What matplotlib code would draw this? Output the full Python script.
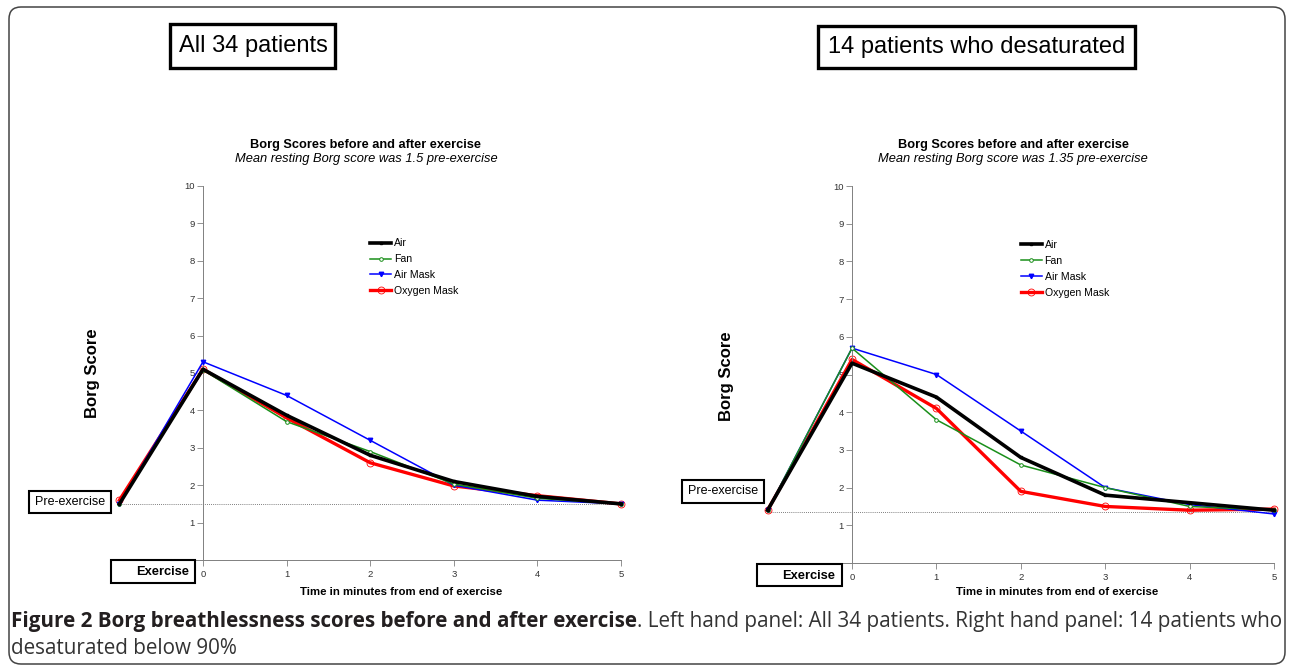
import matplotlib
matplotlib.use("Agg")
import matplotlib.pyplot as plt
from matplotlib.patches import Rectangle, FancyBboxPatch
from matplotlib.transforms import Affine2D
from matplotlib import font_manager

W, H, DPI = 1292, 668, 100

plt.rcParams['font.family'] = ['Liberation Sans', 'DejaVu Sans']

# x = -1 is the resting (pre-exercise) reading, 0..5 minutes after exercise
times = [-1, 0, 1, 2, 3, 4, 5]
xticks = [0, 1, 2, 3, 4, 5]
yticks = [1, 2, 3, 4, 5, 6, 7, 8, 9, 10]
series = ['Air', 'Fan', 'Air Mask', 'Oxygen Mask']

# left panel - all 34 patients
all_air = [1.5, 5.1, 3.87, 2.8, 2.1, 1.7, 1.5]
all_fan = [1.5, 5.08, 3.7, 2.9, 2.03, 1.65, 1.5]
all_airmask = [1.5, 5.3, 4.4, 3.2, 2.0, 1.6, 1.5]
all_oxygen = [1.6, 5.1, 3.8, 2.6, 1.98, 1.72, 1.5]
all_rest = 1.5

# right panel - 14 patients who desaturated
des_air = [1.4, 5.3, 4.4, 2.8, 1.8, 1.6, 1.4]
des_fan = [1.4, 5.7, 3.8, 2.6, 2.0, 1.5, 1.4]
des_airmask = [1.4, 5.7, 5.0, 3.5, 2.0, 1.55, 1.3]
des_oxygen = [1.4, 5.4, 4.1, 1.9, 1.5, 1.4, 1.43]
des_rest = 1.35

styles = {
    'Air': dict(color='black', lw=2.6, marker='s', ms=1.6, mfc='black', mec='black', zorder=5),
    'Fan': dict(color='#1a8f1a', lw=1.1, marker='o', ms=2.6, mfc='white', mec='#1a8f1a', mew=0.7, zorder=4),
    'Air Mask': dict(color='#0000ff', lw=1.1, marker='v', ms=3.2, mfc='#0000ff', mec='#0000ff', zorder=3),
    'Oxygen Mask': dict(color='#ff0000', lw=2.4, marker='o', ms=5, mfc='none', mec='#ff0000', mew=0.6, zorder=2),
}

fig = plt.figure(figsize=(W / DPI, H / DPI), dpi=DPI)
# pixel coordinates measured from the top-left corner
px = Affine2D().scale(1 / DPI, -1 / DPI).translate(0, H / DPI) + fig.dpi_scale_trans


def box(x0, y0, x1, y1, lw):
    fig.add_artist(Rectangle((x0, y0), x1 - x0, y1 - y0, transform=px, facecolor='white',
                             edgecolor='black', lw=lw, zorder=6))


def label(x, y, s, **kw):
    kw.setdefault('ha', 'center')
    kw.setdefault('va', 'center')
    return fig.text(x, y, s, transform=px, zorder=7, **kw)


def draw_panel(rect, scores, rest, legend_top):
    x0, x1, y_top, y_bot = rect
    ax = fig.add_axes([x0 / W, (H - y_bot) / H, (x1 - x0) / W, (y_bot - y_top) / H])
    ax.set_facecolor('none')
    for name, vals in zip(series, scores):
        ax.plot(times, vals, label=name, clip_on=False, **styles[name])
    ax.plot([times[0], times[-1]], [rest, rest], ls=(0, (1, 1.5)), color='#555555', lw=0.6, zorder=1)
    ax.set_xlim(-1.2, 5.1)
    ax.set_ylim(0, 10)
    ax.spines['top'].set_visible(False)
    ax.spines['right'].set_visible(False)
    ax.spines['left'].set_position(('data', 0))
    ax.spines['left'].set_bounds(0, 10)
    ax.spines['bottom'].set_bounds(-1, 5)
    for sp in ('left', 'bottom'):
        ax.spines[sp].set_color('#808080')
        ax.spines[sp].set_linewidth(0.7)
    ax.set_xticks(xticks)
    ax.set_yticks(yticks)
    ax.tick_params(axis='both', length=4, width=0.6, color='#808080', labelsize=6.8,
                   labelcolor='#333333', pad=2)
    ax.tick_params(axis='x', pad=3)
    ax.legend(loc='upper left', bbox_to_anchor=(2.0, legend_top), bbox_transform=ax.transData,
              frameon=False, fontsize=7.6, handlelength=2.0, handletextpad=0.25,
              labelspacing=0.56, borderpad=0, borderaxespad=0, numpoints=1)
    return ax


# left panel: x=0 at 203px, 83.6 px per minute; right: x=0 at 852px, 84.4 px per minute
draw_panel((203 - 1.2 * 83.6, 203 + 5.1 * 83.6, 186, 560),
           [all_air, all_fan, all_airmask, all_oxygen], all_rest, 8.6)
draw_panel((852 - 1.2 * 84.4, 852 + 5.1 * 84.4, 186, 563),
           [des_air, des_fan, des_airmask, des_oxygen], des_rest, 8.57)

# outer frame
fig.add_artist(FancyBboxPatch((9 / DPI, (H - 664) / DPI), (1285 - 9) / DPI, (664 - 7) / DPI,
                              boxstyle='round,pad=0,rounding_size=0.12', transform=fig.dpi_scale_trans,
                              facecolor='none', edgecolor='#444444', lw=1.1, zorder=8))

# panel headings
box(170, 24, 335, 68, 2.4)
label(253, 46, 'All 34 patients', fontsize=17)
box(818, 26, 1135, 68, 2.4)
label(977, 47, '14 patients who desaturated', fontsize=17)

for cx, sub in ((366, 'Mean resting Borg score was 1.5 pre-exercise'),
                (1013, 'Mean resting Borg score was 1.35 pre-exercise')):
    label(cx, 145, 'Borg Scores before and after exercise', fontsize=9.2, fontweight='bold')
    label(cx, 159, sub, fontsize=9.3, style='italic')

label(92, 373, 'Borg Score', fontsize=12, fontweight='bold', rotation=90)
label(726, 376, 'Borg Score', fontsize=12, fontweight='bold', rotation=90)
label(401, 592, 'Time in minutes from end of exercise', fontsize=8.2, fontweight='bold')
label(1057, 592, 'Time in minutes from end of exercise', fontsize=8.2, fontweight='bold')

# pre-exercise / exercise markers
box(29, 491, 111, 513, 1.5)
label(70, 502, 'Pre-exercise', fontsize=9)
box(111, 560, 195, 583, 1.5)
label(189, 572, 'Exercise', fontsize=9.3, fontweight='bold', ha='right')
box(682, 480, 764, 503, 1.5)
label(723, 491, 'Pre-exercise', fontsize=9)
box(757, 564, 842, 586, 1.5)
label(835, 576, 'Exercise', fontsize=9.3, fontweight='bold', ha='right')

# caption, stretched to the frame width
names = {f.name for f in font_manager.fontManager.ttflist}
cap_font = ['Liberation Sans Narrow'] if 'Liberation Sans Narrow' in names else ['Open Sans', 'DejaVu Sans']
cap_bold = 'Figure 2 Borg breathlessness scores before and after exercise'
cap_rest = '. Left hand panel: All 34 patients. Right hand panel: 14 patients who'
size = 12
t1 = label(11, 622, cap_bold, fontsize=size, fontweight='bold', ha='left', family=cap_font, color='#231f20')
t2 = label(11, 622, cap_rest, fontsize=size, ha='left', family=cap_font, color='#333333')
t3 = label(11, 648, 'desaturated below 90%', fontsize=size, ha='left', family=cap_font, color='#333333')
fig.canvas.draw()
r = fig.canvas.get_renderer()
total = t1.get_window_extent(r).width + t2.get_window_extent(r).width
size = size * (1282 - 11) / total
for t in (t1, t2, t3):
    t.set_fontsize(size)
fig.canvas.draw()
t2.set_x(11 + t1.get_window_extent(r).width)

fig.savefig('out.png', dpi=DPI)
